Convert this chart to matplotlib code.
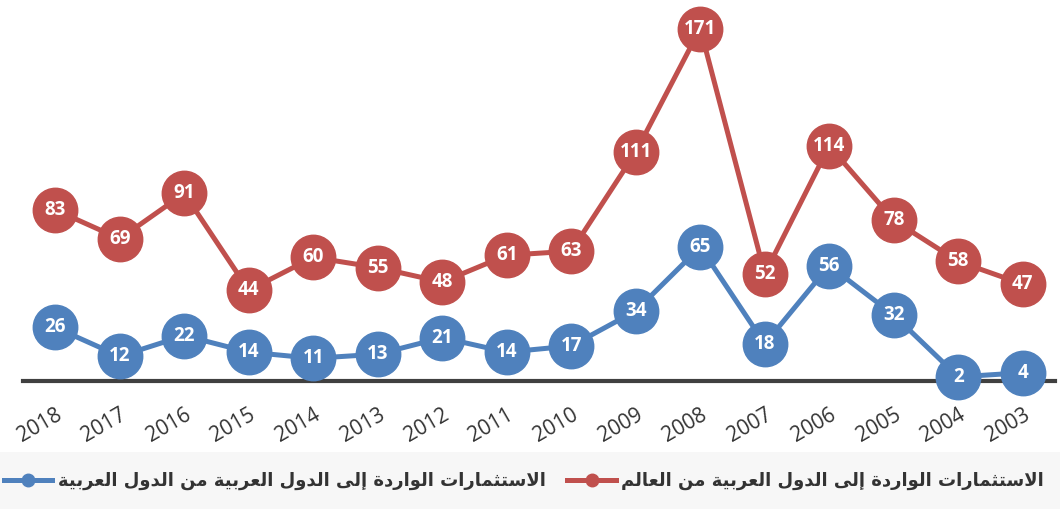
import matplotlib
matplotlib.use("Agg")
import matplotlib.pyplot as plt
from matplotlib.lines import Line2D
from matplotlib.patches import Rectangle

years = ["2018", "2017", "2016", "2015", "2014", "2013", "2012", "2011",
         "2010", "2009", "2008", "2007", "2006", "2005", "2004", "2003"]
world = [83, 69, 91, 44, 60, 55, 48, 61, 63, 111, 171, 52, 114, 78, 58, 47]
arab = [26, 12, 22, 14, 11, 13, 21, 14, 17, 34, 65, 18, 56, 32, 2, 4]

label_world = "الاستثمارات الواردة إلى الدول العربية من العالم"
label_arab = "الاستثمارات الواردة إلى الدول العربية من الدول العربية"

RED = "#C0504D"
BLUE = "#4F81BD"

# minimal Arabic shaping: (isolated, final, initial, medial)
FORMS = {
    "ا": ("\uFE8D", "\uFE8E", None, None),
    "إ": ("\uFE87", "\uFE88", None, None),
    "ب": ("\uFE8F", "\uFE90", "\uFE91", "\uFE92"),
    "ة": ("\uFE93", "\uFE94", None, None),
    "ت": ("\uFE95", "\uFE96", "\uFE97", "\uFE98"),
    "ث": ("\uFE99", "\uFE9A", "\uFE9B", "\uFE9C"),
    "د": ("\uFEA9", "\uFEAA", None, None),
    "ر": ("\uFEAD", "\uFEAE", None, None),
    "س": ("\uFEB1", "\uFEB2", "\uFEB3", "\uFEB4"),
    "ع": ("\uFEC9", "\uFECA", "\uFECB", "\uFECC"),
    "ل": ("\uFEDD", "\uFEDE", "\uFEDF", "\uFEE0"),
    "م": ("\uFEE1", "\uFEE2", "\uFEE3", "\uFEE4"),
    "ن": ("\uFEE5", "\uFEE6", "\uFEE7", "\uFEE8"),
    "و": ("\uFEED", "\uFEEE", None, None),
    "ى": ("\uFEEF", "\uFEF0", None, None),
    "ي": ("\uFEF1", "\uFEF2", "\uFEF3", "\uFEF4"),
}
LAMALEF = {"ا": ("\uFEFB", "\uFEFC"), "إ": ("\uFEF9", "\uFEFA")}


def shape(text):
    # merge lam+alef into one unit first
    units = []
    i = 0
    while i < len(text):
        c = text[i]
        if c == "ل" and i + 1 < len(text) and text[i + 1] in LAMALEF:
            units.append(("LA", text[i + 1]))
            i += 2
        else:
            units.append(("C", c))
            i += 1

    def joins_next(u):
        return u[0] == "C" and u[1] in FORMS and FORMS[u[1]][2] is not None

    def arabic(u):
        return u[0] == "LA" or u[1] in FORMS

    out = []
    for k, u in enumerate(units):
        prev = units[k - 1] if k > 0 else None
        nxt = units[k + 1] if k + 1 < len(units) else None
        jp = prev is not None and joins_next(prev) and arabic(u)
        if u[0] == "LA":
            out.append(LAMALEF[u[1]][1 if jp else 0])
            continue
        c = u[1]
        if c not in FORMS:
            out.append(c)
            continue
        jn = joins_next(u) and nxt is not None and arabic(nxt)
        f = FORMS[c]
        if jp and jn:
            out.append(f[3])
        elif jp:
            out.append(f[1])
        elif jn:
            out.append(f[2])
        else:
            out.append(f[0])
    return "".join(out)[::-1]


plt.rcParams["font.family"] = ["Open Sans", "DejaVu Sans"]

fig = plt.figure(figsize=(10.6, 5.09), dpi=100)
ax = fig.add_axes([23 / 1060, 0.2515, 1032 / 1060, 0.7289])

x = list(range(len(years)))
ax.plot(x, world, color=RED, lw=3.6, marker="o", ms=32, clip_on=False, zorder=3)
ax.plot(x, arab, color=BLUE, lw=3.6, marker="o", ms=32, clip_on=False, zorder=4)
for xi, v in zip(x, world):
    ax.text(xi, v, str(v), color="white", fontsize=13.5, fontweight="bold",
            ha="center", va="center", zorder=6, clip_on=False)
for xi, v in zip(x, arab):
    ax.text(xi, v, str(v), color="white", fontsize=13.5, fontweight="bold",
            ha="center", va="center", zorder=6, clip_on=False)

ax.set_xlim(-0.5, 15.5)
ax.set_ylim(0, 180)
ax.set_yticks([])
ax.set_xticks(x)
ax.set_xticklabels(years, rotation=30, ha="right", va="top",
                   rotation_mode="anchor", fontsize=15, color="#333333")
ax.tick_params(axis="x", length=0, pad=17)
for s in ["top", "left", "right"]:
    ax.spines[s].set_visible(False)
ax.spines["bottom"].set_color("#404040")
ax.spines["bottom"].set_linewidth(3)
ax.spines["bottom"].set_zorder(2)

# legend band
fig.patches.append(Rectangle((0, 0), 1, 57 / 509, transform=fig.transFigure,
                             facecolor="#F7F7F7", edgecolor="none", zorder=0))
handles = [
    Line2D([], [], color=BLUE, lw=3.6, marker="o", ms=9),
    Line2D([], [], color=RED, lw=3.6, marker="o", ms=9),
]
fig.legend(handles, [shape(label_arab), shape(label_world)], ncol=2,
           loc="center left", bbox_to_anchor=(0.0, 0.055), frameon=False,
           prop={"family": "DejaVu Sans", "weight": "bold", "size": 13},
           handlelength=2.7, handletextpad=0.3, columnspacing=1.2,
           borderaxespad=0, borderpad=0.2, labelcolor="#333333")

fig.savefig("out.png", dpi=100)
